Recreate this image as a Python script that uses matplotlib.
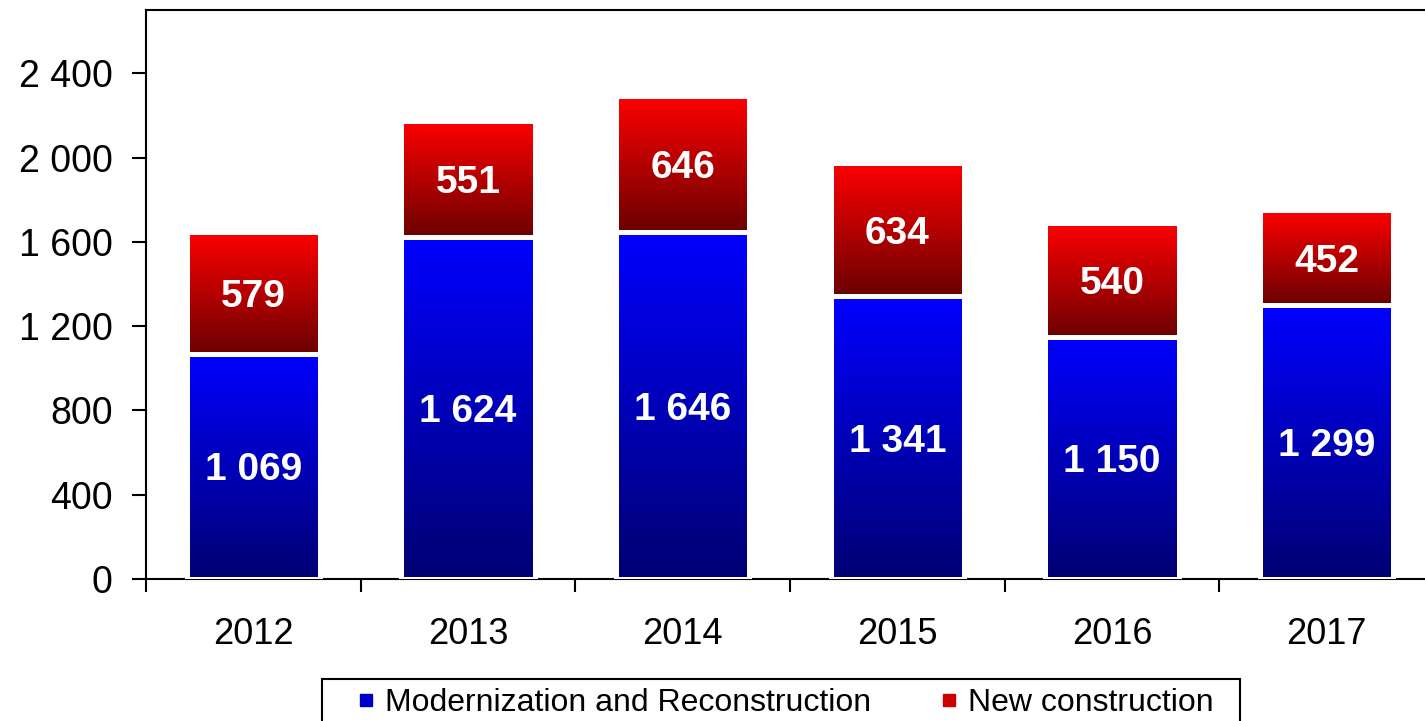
import numpy as np
import matplotlib
matplotlib.use('Agg')
import matplotlib.pyplot as plt
from matplotlib.colors import LinearSegmentedColormap
from matplotlib.lines import Line2D
from matplotlib.patches import Rectangle

years = ['2012', '2013', '2014', '2015', '2016', '2017']
modernization = [1069, 1624, 1646, 1341, 1150, 1299]
new_construction = [579, 551, 646, 634, 540, 452]
yticks = [0, 400, 800, 1200, 1600, 2000, 2400]
series_names = ['Modernization and Reconstruction', 'New construction']

plt.rcParams['font.family'] = ['Liberation Sans', 'DejaVu Sans']

W, H = 1425, 721
fig = plt.figure(figsize=(W / 100, H / 100), dpi=100)
ax = fig.add_axes([146 / W, 1 - 579 / H, (1434 - 146) / W, (579 - 10) / H])

x = np.arange(len(years))
bw = 0.62
blue_cmap = LinearSegmentedColormap.from_list('b', [(0, 0, 0.45), (0, 0, 1)])
red_cmap = LinearSegmentedColormap.from_list('r', [(0.42, 0, 0), (1, 0, 0)])
grad = np.linspace(0, 1, 256).reshape(-1, 1)


def fmt(v, sep=' '):
    return f"{v:,}".replace(',', sep)


def draw(vals, bottoms, cmap):
    bars = ax.bar(x, vals, bw, bottom=bottoms, facecolor='none',
                  edgecolor='white', linewidth=3.6, zorder=3)
    for b, v in zip(bars, vals):
        x0, y0 = b.get_x(), b.get_y()
        ax.imshow(grad, extent=[x0, x0 + b.get_width(), y0, y0 + b.get_height()],
                  origin='lower', aspect='auto', cmap=cmap, zorder=2,
                  interpolation='bilinear')
        ax.text(x0 + b.get_width() / 2, y0 + b.get_height() / 2, fmt(v),
                ha='center', va='center_baseline', color='white',
                fontsize=28, fontweight='bold', zorder=4)
    return bars


draw(modernization, 0, blue_cmap)
draw(new_construction, modernization, red_cmap)

ax.set_xlim(-0.5, len(years) - 0.5)
ax.set_ylim(0, 2700)

for s in ['left', 'top', 'bottom']:
    ax.spines[s].set_linewidth(1.5)
    ax.spines[s].set_color('black')
ax.spines['right'].set_visible(False)

ax.set_yticks(yticks)
ax.set_yticklabels([fmt(v) for v in yticks])
ax.tick_params(axis='y', length=10, width=1.5, pad=14, labelsize=27)

ax.set_xticks(np.arange(-0.5, len(years), 1))
ax.set_xticklabels([])
ax.set_xticks(x, minor=True)
ax.set_xticklabels(years, minor=True)
ax.tick_params(axis='x', which='major', length=9, width=1.5)
ax.tick_params(axis='x', which='minor', length=0, pad=27, labelsize=26)

handles = [Line2D([], [], marker='s', ls='none', color='#0000cc', markersize=8.6),
           Line2D([], [], marker='s', ls='none', color='#cc0000', markersize=8.6)]
leg = fig.legend(handles, series_names, loc='center left',
                 bbox_to_anchor=(360 / W, 1 - 703 / H), ncol=2, frameon=False,
                 fontsize=23, handlelength=0.4, handletextpad=0.38,
                 columnspacing=2.24, borderaxespad=0, borderpad=0)
fig.add_artist(Rectangle((322 / W, -0.05), (1240 - 322) / W, 0.05 + 1 - 679 / H,
                         transform=fig.transFigure, facecolor='none',
                         edgecolor='black', linewidth=1.5))

fig.savefig('out.png', dpi=100)
